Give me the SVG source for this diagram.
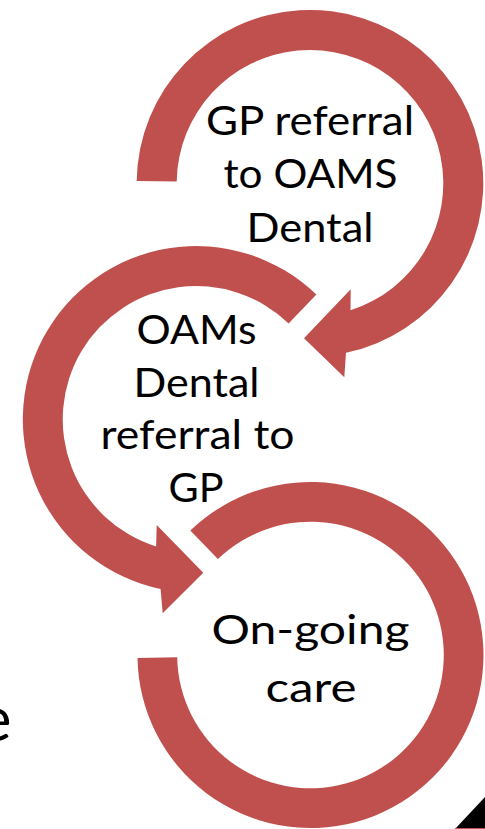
<svg xmlns="http://www.w3.org/2000/svg" width="485" height="829" viewBox="0 0 485 829">
  <style>
    .ring { fill: #C0504D; stroke: none; }
    .lbl { font-family: Lato, "Open Sans", "Liberation Sans", sans-serif; font-size: 40px; fill: #000000; text-anchor: middle; }
  </style>
  <rect x="0" y="0" width="485" height="829" fill="#FFFFFF"/>

  <g id="node-gp-referral">
    <path class="ring" d="M136.7,180.9 A173.3,173.3 0 1 1 346.0,352.8 L344.3,377.3 L304,338.3 L350.7,289.3 L350.5,310.3 A133.3,133.3 0 1 0 176.7,181.4 Z"/>
    <text class="lbl" x="310" y="135" textLength="208" lengthAdjust="spacingAndGlyphs">GP referral</text>
    <text class="lbl" x="310.5" y="188" textLength="174" lengthAdjust="spacingAndGlyphs">to OAMS</text>
    <text class="lbl" x="310" y="242" textLength="127" lengthAdjust="spacingAndGlyphs">Dental</text>
  </g>

  <g id="node-oams-referral">
    <path class="ring" d="M316.4,294.6 A173.3,173.3 0 1 0 160.6,589.0 L162.7,613.3 L203.3,572.7 L156.7,525 L156.1,546.5 A133.3,133.3 0 1 1 288.6,323.4 Z"/>
    <text class="lbl" x="196.5" y="344" textLength="120" lengthAdjust="spacingAndGlyphs">OAMs</text>
    <text class="lbl" x="196.5" y="397" textLength="126" lengthAdjust="spacingAndGlyphs">Dental</text>
    <text class="lbl" x="197.5" y="449" textLength="194" lengthAdjust="spacingAndGlyphs">referral to</text>
    <text class="lbl" x="196" y="502" textLength="55" lengthAdjust="spacingAndGlyphs">GP</text>
  </g>

  <g id="node-ongoing-care">
    <path class="ring" d="M190.3,530.6 A173,173 0 1 1 137.5,658.0 L177.2,657.3 A133.3,133.3 0 1 0 217.9,559.1 Z"/>
    <text class="lbl" x="310.5" y="644" textLength="198" lengthAdjust="spacingAndGlyphs">On-going</text>
    <text class="lbl" x="311" y="702" textLength="91" lengthAdjust="spacingAndGlyphs">care</text>
  </g>

  <text x="11.5" y="741" font-family="Lato, 'Open Sans', 'Liberation Sans', sans-serif" font-size="62" fill="#000000" text-anchor="end">e</text>

  <polygon points="455,829 485,797 485,829" fill="#000000"/>
  <line x1="455" y1="828.5" x2="485" y2="828.5" stroke="#C0504D" stroke-width="1"/>
</svg>
